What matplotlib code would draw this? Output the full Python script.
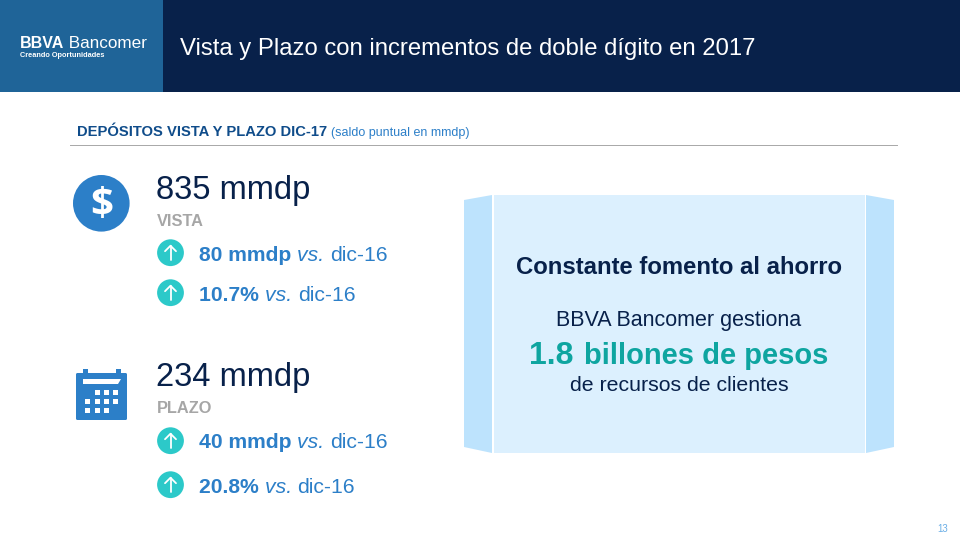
import matplotlib
matplotlib.use("Agg")
import matplotlib.pyplot as plt
from matplotlib.patches import Rectangle, Circle, Polygon, FancyBboxPatch

plt.rcParams['font.family'] = ['Liberation Sans', 'DejaVu Sans']

NAVY = "#08214a"
BLUE = "#2c7fc8"
STEEL = "#1f6498"
TEAL = "#2cc9c9"
GREY = "#a6a6a6"

title = "Vista y Plazo con incrementos de doble dígito en 2017"
section_bold = "DEPÓSITOS VISTA Y PLAZO DIC-17"
section_note = "(saldo puntual en mmdp)"

amounts = ["835 mmdp", "234 mmdp"]
amount_names = ["VISTA", "PLAZO"]
vista_changes = ["80 mmdp", "10.7%"]
plazo_changes = ["40 mmdp", "20.8%"]
compare_to = "dic-16"

box_head = "Constante fomento al ahorro"
box_line1 = "BBVA Bancomer gestiona"
box_big = "1.8"
box_big_rest = "billones de pesos"
box_line3 = "de recursos de clientes"
page_no = "13"

fig = plt.figure(figsize=(9.6, 5.4), dpi=100)
ax = fig.add_axes([0, 0, 1, 1])
ax.set_xlim(0, 960)
ax.set_ylim(540, 0)
ax.axis('off')


def run_text(x, y, parts):
    # draws pieces of text one after the other on the same baseline
    renderer = fig.canvas.get_renderer()
    for s, size, color, weight, style in parts:
        t = ax.text(x, y, s, fontsize=size, color=color, fontweight=weight,
                    fontstyle=style, va='baseline', ha='left')
        x = t.get_window_extent(renderer).x1
    return x


def up_badge(cx, cy):
    ax.add_patch(Circle((cx, cy), 13.4, color=TEAL, lw=0))
    ax.plot([cx, cx], [cy - 7, cy + 7.5], color='white', lw=1.3, solid_capstyle='round')
    ax.plot([cx - 5.5, cx, cx + 5.5], [cy - 1.5, cy - 7, cy - 1.5], color='white', lw=1.3,
            solid_capstyle='round', solid_joinstyle='round')


def change_row(cy, base, value):
    x = run_text(199, base, [(value + " ", 15.2, BLUE, 'bold', 'normal'),
                             ("vs. ", 15.2, BLUE, 'normal', 'italic'),
                             (compare_to, 15.2, BLUE, 'normal', 'normal')])
    up_badge(170.5, cy)
    return x


# header
ax.add_patch(Rectangle((0, 0), 960, 92, color=NAVY, lw=0))
ax.add_patch(Rectangle((0, 0), 163, 92, color=STEEL, lw=0))
run_text(20, 47.5, [("BBVA", 11.5, 'white', 'bold', 'normal'),
                    (" Bancomer", 12.3, 'white', 'normal', 'normal')])
ax.text(20.5, 57, "Creando Oportunidades", fontsize=5.3, color='white', fontweight='bold',
        va='baseline')
ax.text(180, 55, title, fontsize=17.2, color='white', va='baseline')

# section heading
run_text(77, 136, [(section_bold + " ", 10.6, "#0f4c8a", 'bold', 'normal'),
                   (section_note, 9, BLUE, 'normal', 'normal')])
ax.plot([70, 897], [144.5, 144.5], color="#a8a8a8", lw=0.7)

# dollar icon
ax.add_patch(Circle((101.3, 203.3), 28.3, color=BLUE, lw=0))
ax.text(101.3, 206, "$", fontsize=29, color='white', fontweight='bold', ha='center',
        va='center', family='Open Sans')

# calendar icon
ax.add_patch(FancyBboxPatch((76, 373), 51, 47, boxstyle="round,pad=0,rounding_size=1.5",
                            color=BLUE, lw=0))
ax.add_patch(Rectangle((83, 369), 4.5, 8, color=BLUE, lw=0))
ax.add_patch(Rectangle((116, 369), 4.5, 8, color=BLUE, lw=0))
ax.add_patch(Polygon([(83, 379), (121, 379), (118, 384), (83, 384)], color='white', lw=0))
for gx, gy in [(94.5, 390), (104, 390), (113, 390),
               (85, 399), (94.5, 399), (104, 399), (113, 399),
               (85, 408), (94.5, 408), (104, 408)]:
    ax.add_patch(Rectangle((gx, gy), 5, 5, color='white', lw=0))

# left column
ax.text(156, 199, amounts[0], fontsize=23.5, color=NAVY, va='baseline')
ax.text(157, 226, amount_names[0], fontsize=11.8, color=GREY, fontweight='bold', va='baseline')
change_row(252.7, 261, vista_changes[0])
change_row(292.7, 301, vista_changes[1])

ax.text(156, 386, amounts[1], fontsize=23.5, color=NAVY, va='baseline')
ax.text(157, 413, amount_names[1], fontsize=11.8, color=GREY, fontweight='bold', va='baseline')
change_row(440.7, 448, plazo_changes[0])
change_row(484.7, 493, plazo_changes[1])

# right box
ax.add_patch(Polygon([(464, 200), (492, 195), (492, 453), (464, 447)], color="#bde3fd", lw=0))
ax.add_patch(Polygon([(866, 195), (894, 200), (894, 447), (866, 453)], color="#bde3fd", lw=0))
ax.add_patch(Rectangle((493.5, 195), 371, 258, color="#dcf0fe", lw=0))

ax.text(679, 274, box_head, fontsize=17.2, color=NAVY, fontweight='bold', ha='center',
        va='baseline')
ax.text(679, 326, box_line1, fontsize=15.5, color=NAVY, ha='center', va='baseline')
run_text(529, 364, [(box_big, 23, "#0ea5a0", 'bold', 'normal'),
                    (" ", 28, "#0ea5a0", 'bold', 'normal'),
                    (box_big_rest, 21, "#0ea5a0", 'bold', 'normal')])
ax.text(679, 391, box_line3, fontsize=15.3, color=NAVY, ha='center', va='baseline')

ax.text(943, 532, page_no, fontsize=7, color="#6aaee6", ha='center', va='baseline')

fig.savefig("out.png", dpi=100)
